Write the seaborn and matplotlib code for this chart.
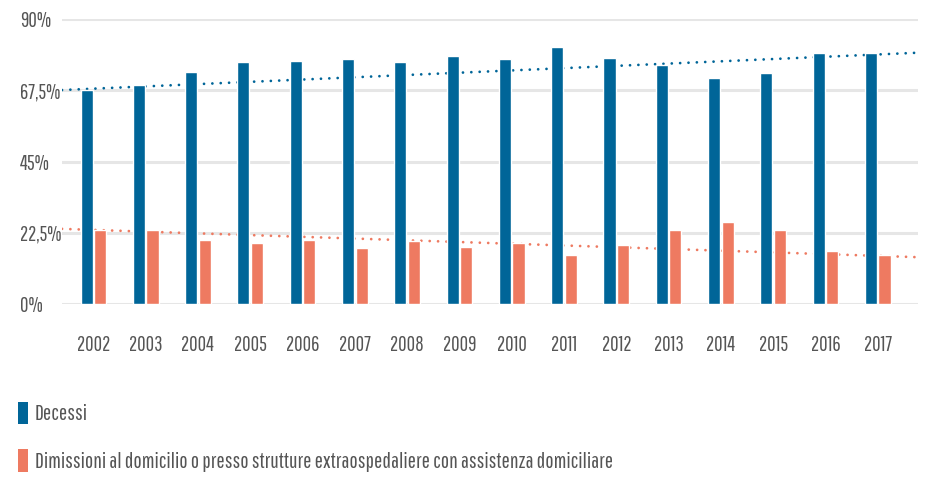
import numpy as np
import pandas as pd
import matplotlib
matplotlib.use("Agg")
import matplotlib.pyplot as plt
import seaborn as sns
from matplotlib.patches import Patch

years = ["2002", "2003", "2004", "2005", "2006", "2007", "2008", "2009",
         "2010", "2011", "2012", "2013", "2014", "2015", "2016", "2017"]
decessi = [67.7, 69.1, 73.2, 76.3, 76.7, 77.3, 76.3, 78.2,
           77.3, 81.1, 77.6, 75.4, 71.3, 72.9, 79.2, 79.2]
dimissioni = [23.4, 23.4, 20.2, 19.2, 20.2, 17.7, 20.0, 18.0,
              19.2, 15.5, 18.6, 23.3, 25.9, 23.3, 16.7, 15.5]
series_names = ["Decessi",
                "Dimissioni al domicilio o presso strutture extraospedaliere con assistenza domiciliare"]
# trend line values read at the first and last year
trend_decessi = [68.0, 78.8]
trend_dimissioni = [23.4, 15.2]
yticks = [0, 22.5, 45, 67.5, 90]
ytick_labels = ["0%", "22,5%", "45%", "67,5%", "90%"]

blue = "#006598"
orange = "#EE7A61"
text_color = "#555555"
FONT = ["Pathway Gothic One", "BenchNine", "DejaVu Sans"]

sns.set_theme(style="white")
plt.rcParams["font.family"] = FONT

fig = plt.figure(figsize=(9.3, 4.83), dpi=100)
renderer = fig.canvas.get_renderer()


def fit_size(text, target_px, ref=10.0):
    t = fig.text(0, 0, text, fontsize=ref)
    w = t.get_window_extent(renderer=renderer).width
    t.remove()
    return ref * target_px / w


tick_fs = fit_size("2002", 33)
legend_fs = fit_size(series_names[1], 575)

df = pd.DataFrame({
    "year": years * 2,
    "value": decessi + dimissioni,
    "serie": [series_names[0]] * len(years) + [series_names[1]] * len(years),
})

ax = fig.add_axes([62 / 930, 1 - 304 / 483, (918 - 62) / 930, (304 - 19) / 483])

sns.barplot(data=df, x="year", y="value", hue="serie", order=years,
            hue_order=series_names, palette=[blue, orange],
            width=0.52, gap=0.11, saturation=1, ax=ax, zorder=3,
            errorbar=None, legend=False)

xlim = (-0.6, 15.77)
ax.set_xlim(*xlim)
ax.set_ylim(0, 90)

# trend lines (dotted, behind bars)
xx = np.array(xlim)
for tv, col in [(trend_decessi, blue), (trend_dimissioni, orange)]:
    coef = np.polyfit([0, len(years) - 1], tv, 1)
    ax.plot(xx, np.polyval(coef, xx), color=col, lw=2.0,
            linestyle=(0, (0.01, 3.0)), dash_capstyle="round", zorder=2)

ax.set_yticks(yticks)
ax.set_yticklabels(ytick_labels)
for lab in ax.get_yticklabels():
    lab.set_horizontalalignment("left")
ax.tick_params(axis="y", length=0, pad=30, labelsize=tick_fs, labelcolor=text_color)
ax.tick_params(axis="x", length=0, pad=22, labelsize=tick_fs, labelcolor=text_color)
ax.grid(axis="y", color="#e6e6e6", lw=2.2, zorder=0)
ax.grid(axis="x", visible=False)
for s in ax.spines.values():
    s.set_visible(False)
ax.set_xlabel("")
ax.set_ylabel("")

px = legend_fs * 100 / 72
handles = [Patch(facecolor=blue, edgecolor="none"), Patch(facecolor=orange, edgecolor="none")]
fig.legend(handles, series_names, loc="upper left",
           bbox_to_anchor=(18 / 930, 1 - 402 / 483), frameon=False,
           borderpad=0, borderaxespad=0, handlelength=10 / px,
           handleheight=26 / px, handletextpad=7 / px,
           labelspacing=25 / px, fontsize=legend_fs,
           labelcolor=text_color)

fig.savefig("out.png", dpi=100, facecolor="white")
